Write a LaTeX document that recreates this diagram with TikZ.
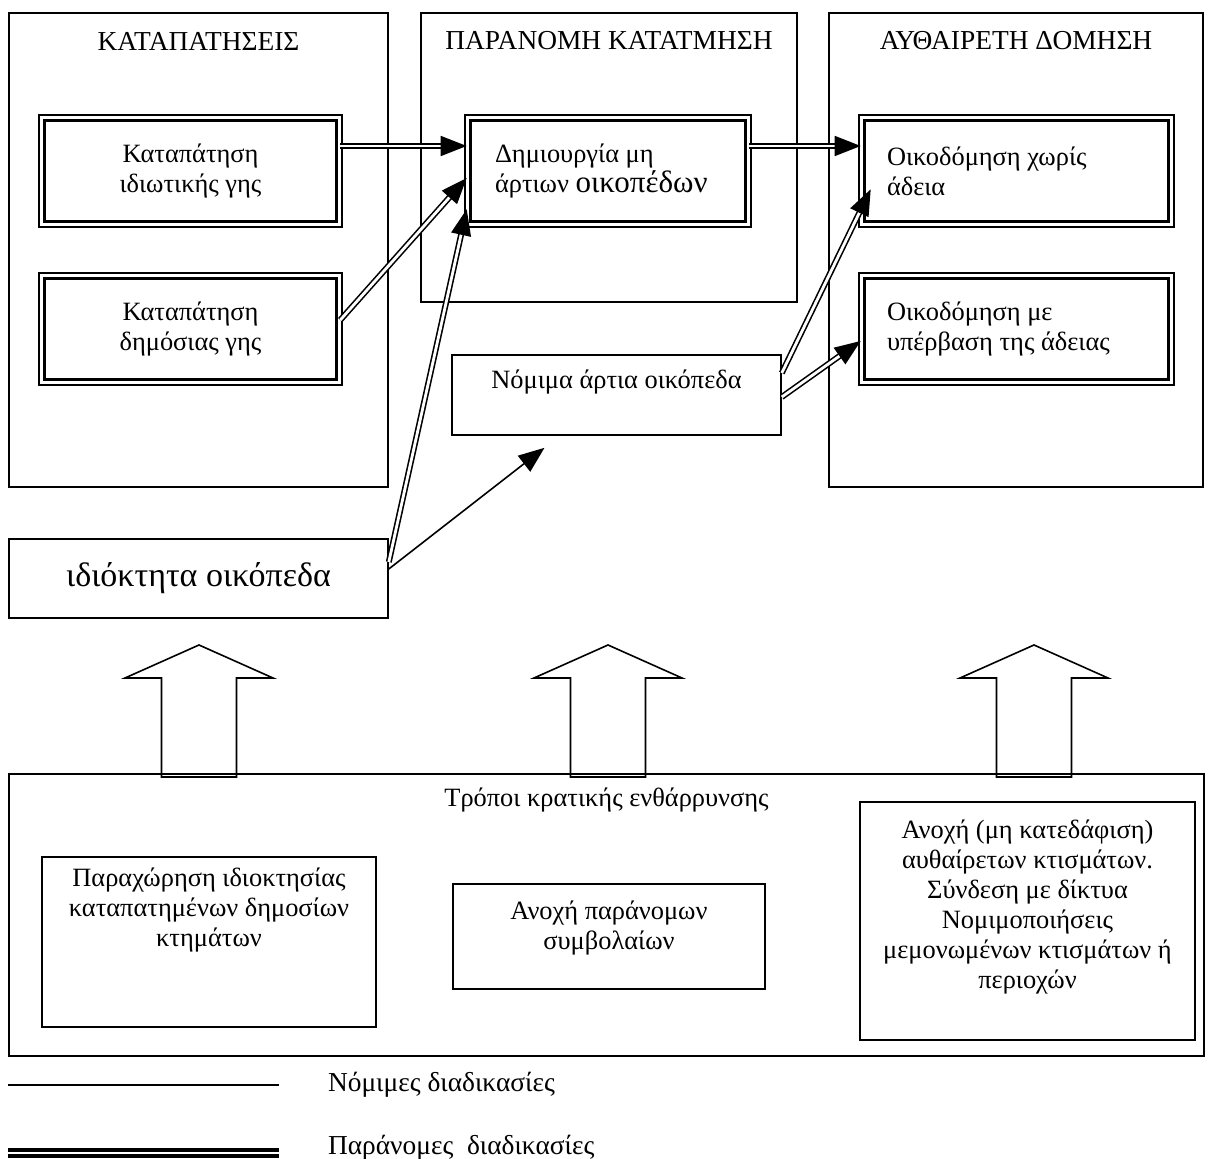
\documentclass[tikz,border=0pt]{standalone}
\usepackage{fontspec}
\setmainfont{Liberation Serif}
\usetikzlibrary{arrows.meta}

\begin{document}
\begin{tikzpicture}
    [
    x=0.5pt, y=-0.5pt,
    font=\fontsize{13.2}{15}\selectfont,
    title/.style={font=\fontsize{13.7}{16}\selectfont},
    bigbox/.style={draw, line width=0.8pt, inner sep=0pt},
    plainbox/.style={draw, line width=0.8pt, inner sep=0pt},
    dblbox/.style={draw, double, line width=1.2pt, double distance=1.5pt, inner sep=0pt, minimum height=53.1pt},
    blockarrow/.style={draw, line width=0.8pt, line join=miter},
    illegal/.style={double, line width=0.8pt, double distance=1.4pt, -{Triangle[length=13pt,width=10pt]}},
    lawful/.style={line width=0.8pt, -{Triangle[length=13pt,width=10pt]}}
    ]
    \useasboundingbox (0,0) rectangle (1210,1159);

    % the three stages
    \node (katal) at (198.5,250) [bigbox, minimum width=189.5pt, minimum height=237pt] {};
    \node (paran) at (609,157.5) [bigbox, minimum width=188pt, minimum height=144.5pt] {};
    \node (auth) at (1016,250) [bigbox, minimum width=187pt, minimum height=237pt] {};
    \node (tkatal) at (198.5,41) [title] {ΚΑΤΑΠΑΤΗΣΕΙΣ};
    \node (tparan) at (609,41) [title] {ΠΑΡΑΝΟΜΗ ΚΑΤΑΤΜΗΣΗ};
    \node (tauth) at (1016,41) [title] {ΑΥΘΑΙΡΕΤΗ ΔΟΜΗΣΗ};

    \node (idiot) at (190.5,171) [dblbox, minimum width=148.6pt, align=center] {Καταπάτηση\\ιδιωτικής γης};
    \node (dimos) at (190.5,329) [dblbox, minimum width=148.6pt, align=center] {Καταπάτηση\\δημόσιας γης};
    \node (dimiourg) at (608,171) [dblbox, minimum width=140.1pt, text width=113pt, align=flush left] {Δημιουργία μη\\άρτιων {\fontsize{15.5}{16}\selectfont οικοπέδων}};
    \node (xwris) at (1016.5,171) [dblbox, minimum width=154.6pt, text width=129.5pt, align=flush left] {Οικοδόμηση χωρίς\\άδεια};
    \node (yperv) at (1016.5,329) [dblbox, minimum width=154.6pt, text width=129.5pt, align=flush left] {Οικοδόμηση με\\υπέρβαση της άδειας};

    \node (nomima) at (616.5,395) [plainbox, minimum width=164.5pt, minimum height=40pt,
      label={[anchor=north, yshift=-4.5pt]north:Νόμιμα άρτια οικόπεδα}] {};
    \node (idiokt) at (198.5,578.5) [plainbox, minimum width=189.5pt, minimum height=39.5pt,
      font=\fontsize{17}{19}\selectfont] {ιδιόκτητα οικόπεδα};

    % state encouragement
    \node (kratos) at (606.5,915) [bigbox, minimum width=597.5pt, minimum height=141pt,
      label={[anchor=north, yshift=-4pt]north:Τρόποι κρατικής ενθάρρυνσης}] {};
    \node (parax) at (209,942) [plainbox, minimum width=167pt, minimum height=85pt,
      label={[anchor=north, yshift=-2.5pt, align=center]north:Παραχώρηση ιδιοκτησίας\\καταπατημένων δημοσίων\\κτημάτων}] {};
    \node (anoxi) at (609,936.5) [plainbox, minimum width=156pt, minimum height=52.5pt,
      label={[anchor=north, yshift=-5.5pt, align=center]north:Ανοχή παράνομων\\συμβολαίων}] {};
    \node (nomop) at (1027.5,921) [plainbox, minimum width=167.5pt, minimum height=119pt,
      label={[anchor=north, yshift=-6pt, align=center]north:Ανοχή (μη κατεδάφιση)\\αυθαίρετων κτισμάτων.\\Σύνδεση με δίκτυα\\Νομιμοποιήσεις\\μεμονωμένων κτισμάτων ή\\περιοχών}] {};

    \draw [blockarrow] (199,645) -- ++(74,33) -- ++(-36.5,0) -- ++(0,99) -- ++(-75,0) -- ++(0,-99) -- ++(-36.5,0) -- cycle;
    \draw [blockarrow] (608,645) -- ++(74,33) -- ++(-36.5,0) -- ++(0,99) -- ++(-75,0) -- ++(0,-99) -- ++(-36.5,0) -- cycle;
    \draw [blockarrow] (1034,645) -- ++(74,33) -- ++(-36.5,0) -- ++(0,99) -- ++(-75,0) -- ++(0,-99) -- ++(-36.5,0) -- cycle;

    % processes
    \draw [illegal] ([yshift=12.5pt]idiot.east) to ([yshift=12.5pt]dimiourg.west);
    \draw [illegal] ([yshift=12.5pt]dimiourg.east) to ([yshift=12.5pt]xwris.west);
    \draw [illegal] ([yshift=4.5pt]dimos.east) to ([yshift=-3.5pt]dimiourg.west);
    \draw [illegal] ([yshift=8.25pt]idiokt.east) to ([yshift=8pt]dimiourg.south west);
    \draw [lawful] ([yshift=4.75pt]idiokt.east) to ([xshift=-36pt,yshift=-6pt]nomima.south);
    \draw [illegal] ([yshift=11pt]nomima.east) to ([xshift=5pt,yshift=18pt]xwris.south west);
    \draw [illegal] ([yshift=-1pt]nomima.east) to ([yshift=-6pt]yperv.west);

    % legend
    \coordinate (n1) at (8,1085);
    \coordinate (n2) at (279,1085);
    \draw [line width=1pt] (n1) to (n2);
    \node (tn) at (321,1085) [anchor=west, title] {Νόμιμες διαδικασίες};
    \coordinate (p1) at (8,1153);
    \coordinate (p2) at (279,1153);
    \draw [double, line width=1.6pt, double distance=1.4pt] (p1) to (p2);
    \node (tp) at (321,1148) [anchor=west, title] {Παράνομες\ \ διαδικασίες};
\end{tikzpicture}
\end{document}
